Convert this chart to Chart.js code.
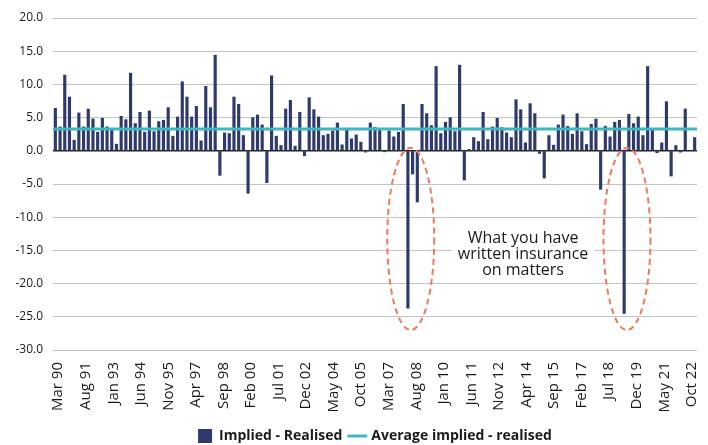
<!DOCTYPE html>
<html>
<head>
<meta charset="utf-8">
<script src="https://cdn.jsdelivr.net/npm/chart.js@4.4.1/dist/chart.umd.min.js"></script>
<style>
    html, body { margin: 0; padding: 0; background: #fff; }
</style>
</head>
<body>
<canvas id="myChart" width="708" height="445"></canvas>
<script>
// implied minus realised volatility, one value per bar (null = no bar)
var spreadValues = [
    6.4, 3.6, 11.4, 8.1, 1.6, 5.7, 3.6, 6.3, 4.8, 2.8, 4.9, 3.6, 3.1, 1.0, 5.2, 4.7, 11.7,
    4.1, 5.8, 2.8, 6.0, 2.9, 4.4, 4.6, 6.5, 2.2, 5.1, 10.4, 8.1, 5.1, 6.7, 1.5, 9.7, 6.5,
    14.4, -3.7, 2.7, 2.6, 8.1, 7.0, 2.3, -6.4, 5.0, 5.4, 3.9, -4.8, 11.3, 2.2, 0.8, 6.3,
    7.6, 0.7, 5.8, -0.75, 8.0, 6.2, 5.1, 2.3, 2.5, 3.0, 4.2, 0.9, 3.1, 1.8, 2.4, 1.3, -0.2, 4.2,
    3.5, 3.1, -0.15, 3.0, 2.1, 2.8, 7.0, -23.7, -3.5, -7.7, 7.0, 5.6, 3.8, 12.7, 2.6, 4.3,
    5.0, 2.9, 12.9, -4.4, 0.2, 2.0, 1.4, 5.8, 1.7, 3.6, 4.9, 3.5, 2.7, 2.0, 7.7, 6.2, 1.2,
    7.1, 5.6, -0.4, -4.1, 2.3, 0.85, 3.9, 5.4, 3.7, 2.5, 5.6, 2.9, 0.95, 4.0, 4.8, -5.8,
    3.7, 2.1, 4.3, 4.6, -24.5, 5.5, 4.1, 5.1, 2.3, 12.7, 3.1, -0.3, 1.2, 7.4, -3.8, 0.8,
    -0.2, 6.3, null, 2.0
];
var averageSpread = 3.3;
var tickLabels = ['Mar 90', 'Aug 91', 'Jan 93', 'Jun 94', 'Nov 95', 'Apr 97', 'Sep 98', 'Feb 00',
    'Jul 01', 'Dec 02', 'May 04', 'Oct 05', 'Mar 07', 'Aug 08', 'Jan 10', 'Jun 11', 'Nov 12',
    'Apr 14', 'Sep 15', 'Feb 17', 'Jul 18', 'Dec 19', 'May 21', 'Oct 22'];
var calloutBars = [75, 121];
var calloutText = ['What you have', 'written insurance', 'on matters'];

var lastIndex = spreadValues.length - 1;
var barPoints = [];
spreadValues.forEach(function (v, i) {
    if (v !== null) barPoints.push({ x: i, y: v });
});

Chart.defaults.font.family = "'Open Sans'";
Chart.defaults.color = '#1a1a1a';

// dashed rings round the two crashes + the note
var calloutPlugin = {
    id: 'callout',
    afterDatasetsDraw: function (chart) {
        var ctx = chart.ctx, xs = chart.scales.x, ys = chart.scales.y;
        ctx.save();
        ctx.strokeStyle = '#EE7A5C';
        ctx.lineWidth = 2;
        ctx.setLineDash([6, 4]);
        calloutBars.forEach(function (i) {
            var cx = xs.getPixelForValue(i + 0.6);
            var top = ys.getPixelForValue(0.45);
            var bottom = ys.getPixelForValue(-27);
            var rx = xs.getPixelForValue(i + 5) - xs.getPixelForValue(i);
            ctx.beginPath();
            ctx.ellipse(cx, (top + bottom) / 2, rx, (bottom - top) / 2, 0, 0, Math.PI * 2);
            ctx.stroke();
        });
        ctx.setLineDash([]);

        var tx = xs.getPixelForValue(99.5);
        var ty = ys.getPixelForValue(-15.6);
        ctx.font = "500 16px 'Open Sans'";
        var w = 0;
        calloutText.forEach(function (t) { w = Math.max(w, ctx.measureText(t).width); });
        ctx.fillStyle = '#fff';
        ctx.fillRect(tx - w / 2 - 6, ty - 28, w + 12, 56);
        ctx.fillStyle = '#1a1a1a';
        ctx.textAlign = 'center';
        ctx.textBaseline = 'middle';
        calloutText.forEach(function (t, k) {
            ctx.fillText(t, tx, ty + (k - 1) * 16);
        });
        ctx.restore();
    }
};

var ctx = document.getElementById('myChart').getContext('2d');
var myChart = new Chart(ctx, {
    type: 'bar',
    data: {
        datasets: [{
            label: 'Implied - Realised',
            data: barPoints,
            backgroundColor: '#2E3A6B',
            barThickness: 2.5,
            pointStyle: 'rect',
            order: 1
        }, {
            type: 'line',
            label: 'Average implied - realised',
            data: [{ x: -0.5, y: averageSpread }, { x: lastIndex + 0.5, y: averageSpread }],
            borderColor: '#3DB8C0',
            backgroundColor: '#3DB8C0',
            borderWidth: 3,
            pointRadius: 0,
            pointStyle: 'line',
            order: 0
        }]
    },
    options: {
        responsive: false,
        animation: false,
        layout: { padding: { top: 18, right: 11, left: 0, bottom: -8 } },
        plugins: {
            tooltip: { enabled: false },
            legend: {
                position: 'bottom',
                fullSize: false,
                labels: {
                    usePointStyle: true,
                    padding: 8,
                    font: { size: 14, weight: 'bold' },
                    color: '#1a1a1a',
                    sort: function (a, b) { return a.datasetIndex - b.datasetIndex; }
                }
            }
        },
        scales: {
            x: {
                type: 'linear',
                offset: false,
                min: -0.5,
                max: lastIndex + 0.5,
                grid: { display: false, drawTicks: true, tickLength: 10 },
                border: { display: false },
                afterBuildTicks: function (axis) {
                    axis.ticks = tickLabels.map(function (l, k) {
                        return { value: 0.6 + k * (lastIndex - 1.2) / (tickLabels.length - 1) };
                    });
                },
                afterFit: function (scale) {
                    scale.height = 71;
                    scale.paddingLeft = 0;
                    scale.paddingRight = 0;
                },
                ticks: {
                    autoSkip: false,
                    minRotation: 90,
                    maxRotation: 90,
                    padding: 2,
                    font: { size: 15, weight: 500, lineHeight: 1 },
                    callback: function (v, i) { return tickLabels[i]; }
                }
            },
            y: {
                min: -30,
                max: 20,
                grid: {
                    drawTicks: false,
                    color: function (c) { return c.tick && c.tick.value === 0 ? '#222' : '#C4C4C4'; },
                    lineWidth: function (c) { return c.tick && c.tick.value === 0 ? 1.5 : 1; }
                },
                border: { display: false },
                afterFit: function (scale) { scale.width = 53; },
                ticks: {
                    stepSize: 5,
                    padding: 10,
                    font: { size: 12, weight: 500 },
                    callback: function (v) { return v.toFixed(1); }
                }
            }
        }
    },
    plugins: [calloutPlugin]
});
</script>
</body>
</html>
